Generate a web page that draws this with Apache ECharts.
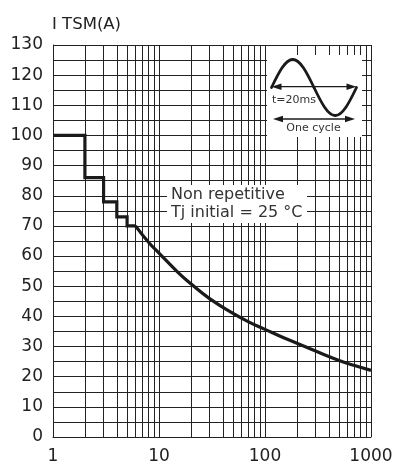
<!DOCTYPE html>
<html><head><meta charset="utf-8">
<script src="https://cdn.jsdelivr.net/npm/echarts@6/dist/echarts.min.js"></script>
<style>html,body{margin:0;padding:0;background:#fff}#c{width:397px;height:465px}</style>
</head><body><div id="c"></div>
<script>
// ---- data ----
const stepX = [1, 2, 3, 4, 5, 6];
const stepY = [100, 86, 78, 73, 70, 70];
const curveX = [6, 8, 10, 15, 20, 30, 50, 70, 100, 150, 200, 300, 500, 700, 1000];
const curveY = [70, 64.5, 61, 54.7, 50.8, 45.9, 41, 38.2, 35.7, 32.9, 31.1, 28.5, 25.4, 23.7, 22.1];
const xTickLabels = [1, 10, 100, 1000];
const yTickLabels = [0, 10, 20, 30, 40, 50, 60, 70, 80, 90, 100, 110, 120, 130];
const xMinorGrid = [2, 3, 4, 5, 6, 7, 8, 9, 20, 30, 40, 50, 60, 70, 80, 90, 200, 300, 400, 500, 600, 700, 800, 900];
const yAxisTitle = 'I TSM(A)';
const noteLines = ['Non repetitive', 'Tj initial = 25 °C'];
const insetLabels = ['t=20ms', 'One cycle'];

const FONT = 'DejaVu Sans';
const INK = '#1a1a1a';
const GRIDC = '#222';

const chart = echarts.init(document.getElementById('c'), null, {renderer: 'canvas'});

function arrow(y, x1, x2) {
  return [
    {type: 'line', z: 101, shape: {x1: x1 + 4, y1: y, x2: x2 - 4, y2: y}, style: {stroke: INK, lineWidth: 1.3}},
    {type: 'polygon', z: 101, shape: {points: [[x1, y], [x1 + 10, y - 3.3], [x1 + 10, y + 3.3]]}, style: {fill: INK}},
    {type: 'polygon', z: 101, shape: {points: [[x2, y], [x2 - 10, y - 3.3], [x2 - 10, y + 3.3]]}, style: {fill: INK}}
  ];
}

// schematic sine of the inset (decoration), four cubic segments
const sineSegs = [
  [271.5, 87.5, 278.6, 72.8, 285.1, 59.5, 292.75, 59.5],
  [292.75, 59.5, 300.4, 59.5, 306.9, 72.8, 314, 87.5],
  [314, 87.5, 321.1, 102.2, 327.6, 115.5, 335.25, 115.5],
  [335.25, 115.5, 342.9, 115.5, 349.4, 102.2, 356.5, 87.5]
];
const sineEls = sineSegs.map(s => ({
  type: 'bezierCurve', z: 101,
  shape: {x1: s[0], y1: s[1], cpx1: s[2], cpy1: s[3], cpx2: s[4], cpy2: s[5], x2: s[6], y2: s[7]},
  style: {stroke: INK, lineWidth: 2.8, fill: null, lineCap: 'round'}
}));

const option = {
  animation: false,
  backgroundColor: '#fff',
  grid: {left: 53, right: 26, top: 45, bottom: 28, containLabel: false, show: false},
  xAxis: {
    type: 'log', logBase: 10, min: xTickLabels[0], max: xTickLabels[xTickLabels.length - 1],
    axisLine: {show: true, onZero: false, lineStyle: {color: GRIDC, width: 1}},
    axisTick: {show: false},
    axisLabel: {
      show: true, fontFamily: FONT, fontSize: 17, color: '#222', margin: 11,
      formatter: v => (xTickLabels.indexOf(Math.round(v)) >= 0 ? String(Math.round(v)) : '')
    },
    splitLine: {show: true, lineStyle: {color: GRIDC, width: 1}}
  },
  yAxis: {
    type: 'value', min: 0, max: 130, interval: 5,
    name: yAxisTitle, nameLocation: 'end', nameGap: 12,
    nameTextStyle: {fontFamily: FONT, fontSize: 16.5, color: '#222', align: 'left', verticalAlign: 'bottom', padding: [0, 0, 0, -1]},
    axisLine: {show: true, lineStyle: {color: GRIDC, width: 1}},
    axisTick: {show: false},
    axisLabel: {
      fontFamily: FONT, fontSize: 17, color: '#222', margin: 10,
      formatter: v => (yTickLabels.indexOf(v) >= 0 ? String(v) : '')
    },
    splitLine: {show: true, lineStyle: {color: GRIDC, width: 1}}
  },
  series: [
    {
      name: 'minor-grid', type: 'line', data: [], z: 1, silent: true, symbol: 'none',
      markLine: {
        silent: true, symbol: ['none', 'none'], label: {show: false},
        lineStyle: {type: 'solid', color: GRIDC, width: 1},
        emphasis: {disabled: true},
        data: xMinorGrid.map(v => ({xAxis: v}))
      }
    },
    {
      name: 'steps', type: 'line', step: 'end', z: 5, symbol: 'none',
      data: stepX.map((x, i) => [x, stepY[i]]),
      lineStyle: {color: INK, width: 3.2, join: 'miter'}
    },
    {
      name: 'curve', type: 'line', smooth: 0.5, z: 5, symbol: 'none',
      data: curveX.map((x, i) => [x, curveY[i]]),
      lineStyle: {color: INK, width: 3.2}
    }
  ],
  graphic: [
    {type: 'rect', z: 100, shape: {x: 167, y: 185, width: 140, height: 38}, style: {fill: '#fff'}},
    {type: 'text', z: 101, x: 171, y: 194.5, style: {text: noteLines[0], font: '16px "' + FONT + '"', fill: '#333', align: 'left', verticalAlign: 'middle'}},
    {type: 'text', z: 101, x: 171, y: 212.5, style: {text: noteLines[1], font: '16px "' + FONT + '"', fill: '#333', align: 'left', verticalAlign: 'middle'}},
    {type: 'rect', z: 100, shape: {x: 267, y: 55, width: 95, height: 82}, style: {fill: '#fff'}},
    ...sineEls,
    ...arrow(86.7, 271.5, 356.5),
    ...arrow(119, 273, 355),
    {type: 'text', z: 102, x: 272, y: 100, style: {text: insetLabels[0], font: '11px "' + FONT + '"', fill: '#333', align: 'left', verticalAlign: 'middle'}},
    {type: 'text', z: 102, x: 313.5, y: 128, style: {text: insetLabels[1], font: '11px "' + FONT + '"', fill: '#333', align: 'center', verticalAlign: 'middle'}}
  ]
};
chart.setOption(option);
</script>
</body></html>
